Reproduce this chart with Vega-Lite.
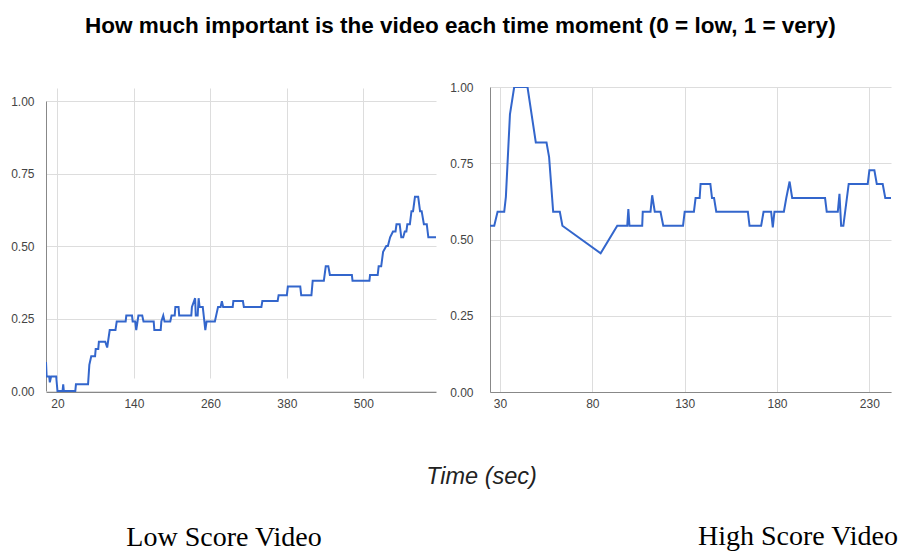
{
  "$schema": "https://vega.github.io/schema/vega-lite/v6.json",
  "padding": {"left": 10, "top": 14, "right": 0, "bottom": 0},
  "background": "white",
  "title": {"text": "How much important is the video each time moment (0 = low, 1 = very)", "font": "Liberation Sans", "fontSize": 22.5, "fontWeight": "bold", "color": "#000", "anchor": "middle", "dx": 6, "offset": 44},
  "bounds": "flush",
  "spacing": 54,
  "config": {
    "view": {"stroke": null},
    "axis": {"gridColor": "#dddddd", "domainColor": "#888888", "ticks": false, "labelColor": "#444444", "labelFont": "Liberation Sans", "labelFontSize": 12, "gridWidth": 1},
    "title": {"font": "Liberation Serif", "fontSize": 28, "fontWeight": "normal", "color": "#000"}
  },
  "hconcat": [
    {
      "width": 390,
      "height": 305,
      "title": {"text": "Low Score Video", "orient": "bottom", "anchor": "middle", "dx": -17, "offset": 36},
      "data": {"values": [
        {"t": 2, "v": 0.10}, {"t": 3, "v": 0.05}, {"t": 7, "v": 0.05}, {"t": 8, "v": 0.03}, {"t": 10, "v": 0.05}, {"t": 18, "v": 0.05}, {"t": 20, "v": 0}, {"t": 28, "v": 0}, {"t": 29, "v": 0.023}, {"t": 30, "v": 0}, {"t": 48, "v": 0}, {"t": 49, "v": 0.023}, {"t": 68, "v": 0.023}, {"t": 70, "v": 0.09}, {"t": 73, "v": 0.12}, {"t": 79, "v": 0.12}, {"t": 80, "v": 0.145}, {"t": 84, "v": 0.145}, {"t": 85, "v": 0.17}, {"t": 95, "v": 0.17}, {"t": 98, "v": 0.15}, {"t": 102, "v": 0.21}, {"t": 111, "v": 0.21}, {"t": 113, "v": 0.24}, {"t": 127, "v": 0.24}, {"t": 128, "v": 0.26}, {"t": 137, "v": 0.26}, {"t": 138, "v": 0.24}, {"t": 142, "v": 0.24}, {"t": 143.6, "v": 0.21}, {"t": 147, "v": 0.26}, {"t": 153, "v": 0.26}, {"t": 155, "v": 0.24}, {"t": 171, "v": 0.24}, {"t": 172, "v": 0.21}, {"t": 182, "v": 0.21}, {"t": 183, "v": 0.24}, {"t": 186, "v": 0.26}, {"t": 188, "v": 0.24}, {"t": 197, "v": 0.24}, {"t": 199, "v": 0.26}, {"t": 204, "v": 0.26}, {"t": 205, "v": 0.29}, {"t": 210, "v": 0.29}, {"t": 211, "v": 0.26}, {"t": 230, "v": 0.26}, {"t": 231, "v": 0.29}, {"t": 236, "v": 0.32}, {"t": 237, "v": 0.26}, {"t": 240, "v": 0.26}, {"t": 241.5, "v": 0.32}, {"t": 243, "v": 0.29}, {"t": 248, "v": 0.29}, {"t": 252, "v": 0.21}, {"t": 254, "v": 0.24}, {"t": 267, "v": 0.24}, {"t": 269, "v": 0.26}, {"t": 272, "v": 0.29}, {"t": 276, "v": 0.29}, {"t": 278, "v": 0.31}, {"t": 280, "v": 0.29}, {"t": 295, "v": 0.29}, {"t": 296, "v": 0.31}, {"t": 311, "v": 0.31}, {"t": 312.5, "v": 0.29}, {"t": 340, "v": 0.29}, {"t": 341.5, "v": 0.31}, {"t": 365.5, "v": 0.31}, {"t": 367, "v": 0.33}, {"t": 380, "v": 0.33}, {"t": 381.5, "v": 0.36}, {"t": 401, "v": 0.36}, {"t": 402.5, "v": 0.33}, {"t": 418.5, "v": 0.33}, {"t": 420.5, "v": 0.38}, {"t": 438, "v": 0.38}, {"t": 441, "v": 0.43}, {"t": 445, "v": 0.43}, {"t": 447.5, "v": 0.40}, {"t": 482, "v": 0.40}, {"t": 483, "v": 0.38}, {"t": 509.5, "v": 0.38}, {"t": 510.5, "v": 0.40}, {"t": 522.5, "v": 0.40}, {"t": 524, "v": 0.43}, {"t": 528, "v": 0.43}, {"t": 531, "v": 0.48}, {"t": 536, "v": 0.50}, {"t": 538.5, "v": 0.50}, {"t": 542, "v": 0.53}, {"t": 546.5, "v": 0.55}, {"t": 550.5, "v": 0.55}, {"t": 552, "v": 0.575}, {"t": 557, "v": 0.575}, {"t": 559.5, "v": 0.53}, {"t": 562.5, "v": 0.53}, {"t": 565, "v": 0.55}, {"t": 567.5, "v": 0.55}, {"t": 569, "v": 0.575}, {"t": 573, "v": 0.575}, {"t": 575.5, "v": 0.62}, {"t": 578, "v": 0.62}, {"t": 581, "v": 0.67}, {"t": 586, "v": 0.67}, {"t": 589, "v": 0.62}, {"t": 591.5, "v": 0.62}, {"t": 595, "v": 0.575}, {"t": 599.5, "v": 0.575}, {"t": 602, "v": 0.53}, {"t": 614, "v": 0.53}
      ]},
      "mark": {"type": "line", "color": "#3366cc", "strokeWidth": 2, "clip": true},
      "encoding": {
        "x": {"field": "t", "type": "quantitative", "scale": {"domain": [2, 614], "nice": false, "zero": false},
          "axis": {"values": [20, 140, 260, 380, 500], "labelPadding": 6, "title": "Time (sec)", "titleX": 435, "titleY": 72, "titleFont": "Liberation Sans", "titleFontSize": 23.5, "titleFontStyle": "italic", "titleFontWeight": "normal", "titleColor": "#222222"}},
        "y": {"field": "v", "type": "quantitative", "scale": {"domain": [0, 1], "range": [304, 14], "nice": false},
          "axis": {"values": [0, 0.25, 0.5, 0.75, 1], "format": ".2f", "labelPadding": 12, "title": null}}
      }
    },
    {
      "width": 401,
      "height": 305,
      "title": {"text": "High Score Video", "orient": "bottom", "anchor": "end", "dx": 7, "offset": 114},
      "data": {"values": [
        {"t": 24.6, "v": 0.545}, {"t": 26.9, "v": 0.545}, {"t": 28.7, "v": 0.591}, {"t": 32.3, "v": 0.591}, {"t": 33.2, "v": 0.64}, {"t": 35.4, "v": 0.91}, {"t": 37.7, "v": 1.0}, {"t": 44.9, "v": 1.0}, {"t": 49.4, "v": 0.818}, {"t": 55.2, "v": 0.818}, {"t": 56.6, "v": 0.77}, {"t": 58.8, "v": 0.591}, {"t": 62.4, "v": 0.591}, {"t": 63.8, "v": 0.545}, {"t": 84.5, "v": 0.455}, {"t": 93.5, "v": 0.545}, {"t": 98.9, "v": 0.545}, {"t": 99.5, "v": 0.60}, {"t": 100.1, "v": 0.545}, {"t": 107, "v": 0.545}, {"t": 107.3, "v": 0.591}, {"t": 111.5, "v": 0.591}, {"t": 112.4, "v": 0.645}, {"t": 113.8, "v": 0.591}, {"t": 116.9, "v": 0.591}, {"t": 118.4, "v": 0.545}, {"t": 129.1, "v": 0.545}, {"t": 130, "v": 0.591}, {"t": 135, "v": 0.591}, {"t": 135.9, "v": 0.636}, {"t": 138.1, "v": 0.636}, {"t": 138.6, "v": 0.682}, {"t": 143.9, "v": 0.682}, {"t": 144.8, "v": 0.636}, {"t": 145.9, "v": 0.636}, {"t": 147.1, "v": 0.591}, {"t": 164.2, "v": 0.591}, {"t": 165.1, "v": 0.545}, {"t": 171.4, "v": 0.545}, {"t": 172.7, "v": 0.591}, {"t": 176.8, "v": 0.591}, {"t": 177.7, "v": 0.54}, {"t": 178.6, "v": 0.591}, {"t": 183.7, "v": 0.591}, {"t": 185, "v": 0.636}, {"t": 186.8, "v": 0.69}, {"t": 188.2, "v": 0.636}, {"t": 206, "v": 0.636}, {"t": 206.9, "v": 0.591}, {"t": 212.9, "v": 0.591}, {"t": 213.8, "v": 0.65}, {"t": 214.7, "v": 0.545}, {"t": 215.9, "v": 0.545}, {"t": 218.8, "v": 0.682}, {"t": 229.1, "v": 0.682}, {"t": 230, "v": 0.727}, {"t": 232.7, "v": 0.727}, {"t": 234, "v": 0.682}, {"t": 237.2, "v": 0.682}, {"t": 238.6, "v": 0.636}, {"t": 241.7, "v": 0.636}
      ]},
      "mark": {"type": "line", "color": "#3366cc", "strokeWidth": 2, "clip": true},
      "encoding": {
        "x": {"field": "t", "type": "quantitative", "scale": {"domain": [24.6, 241.7], "nice": false, "zero": false},
          "axis": {"values": [30, 80, 130, 180, 230], "labelPadding": 6, "title": null}},
        "y": {"field": "v", "type": "quantitative", "scale": {"domain": [0, 1], "nice": false},
          "axis": {"values": [0, 0.25, 0.5, 0.75, 1], "format": ".2f", "labelPadding": 17, "title": null}}
      }
    }
  ]
}
